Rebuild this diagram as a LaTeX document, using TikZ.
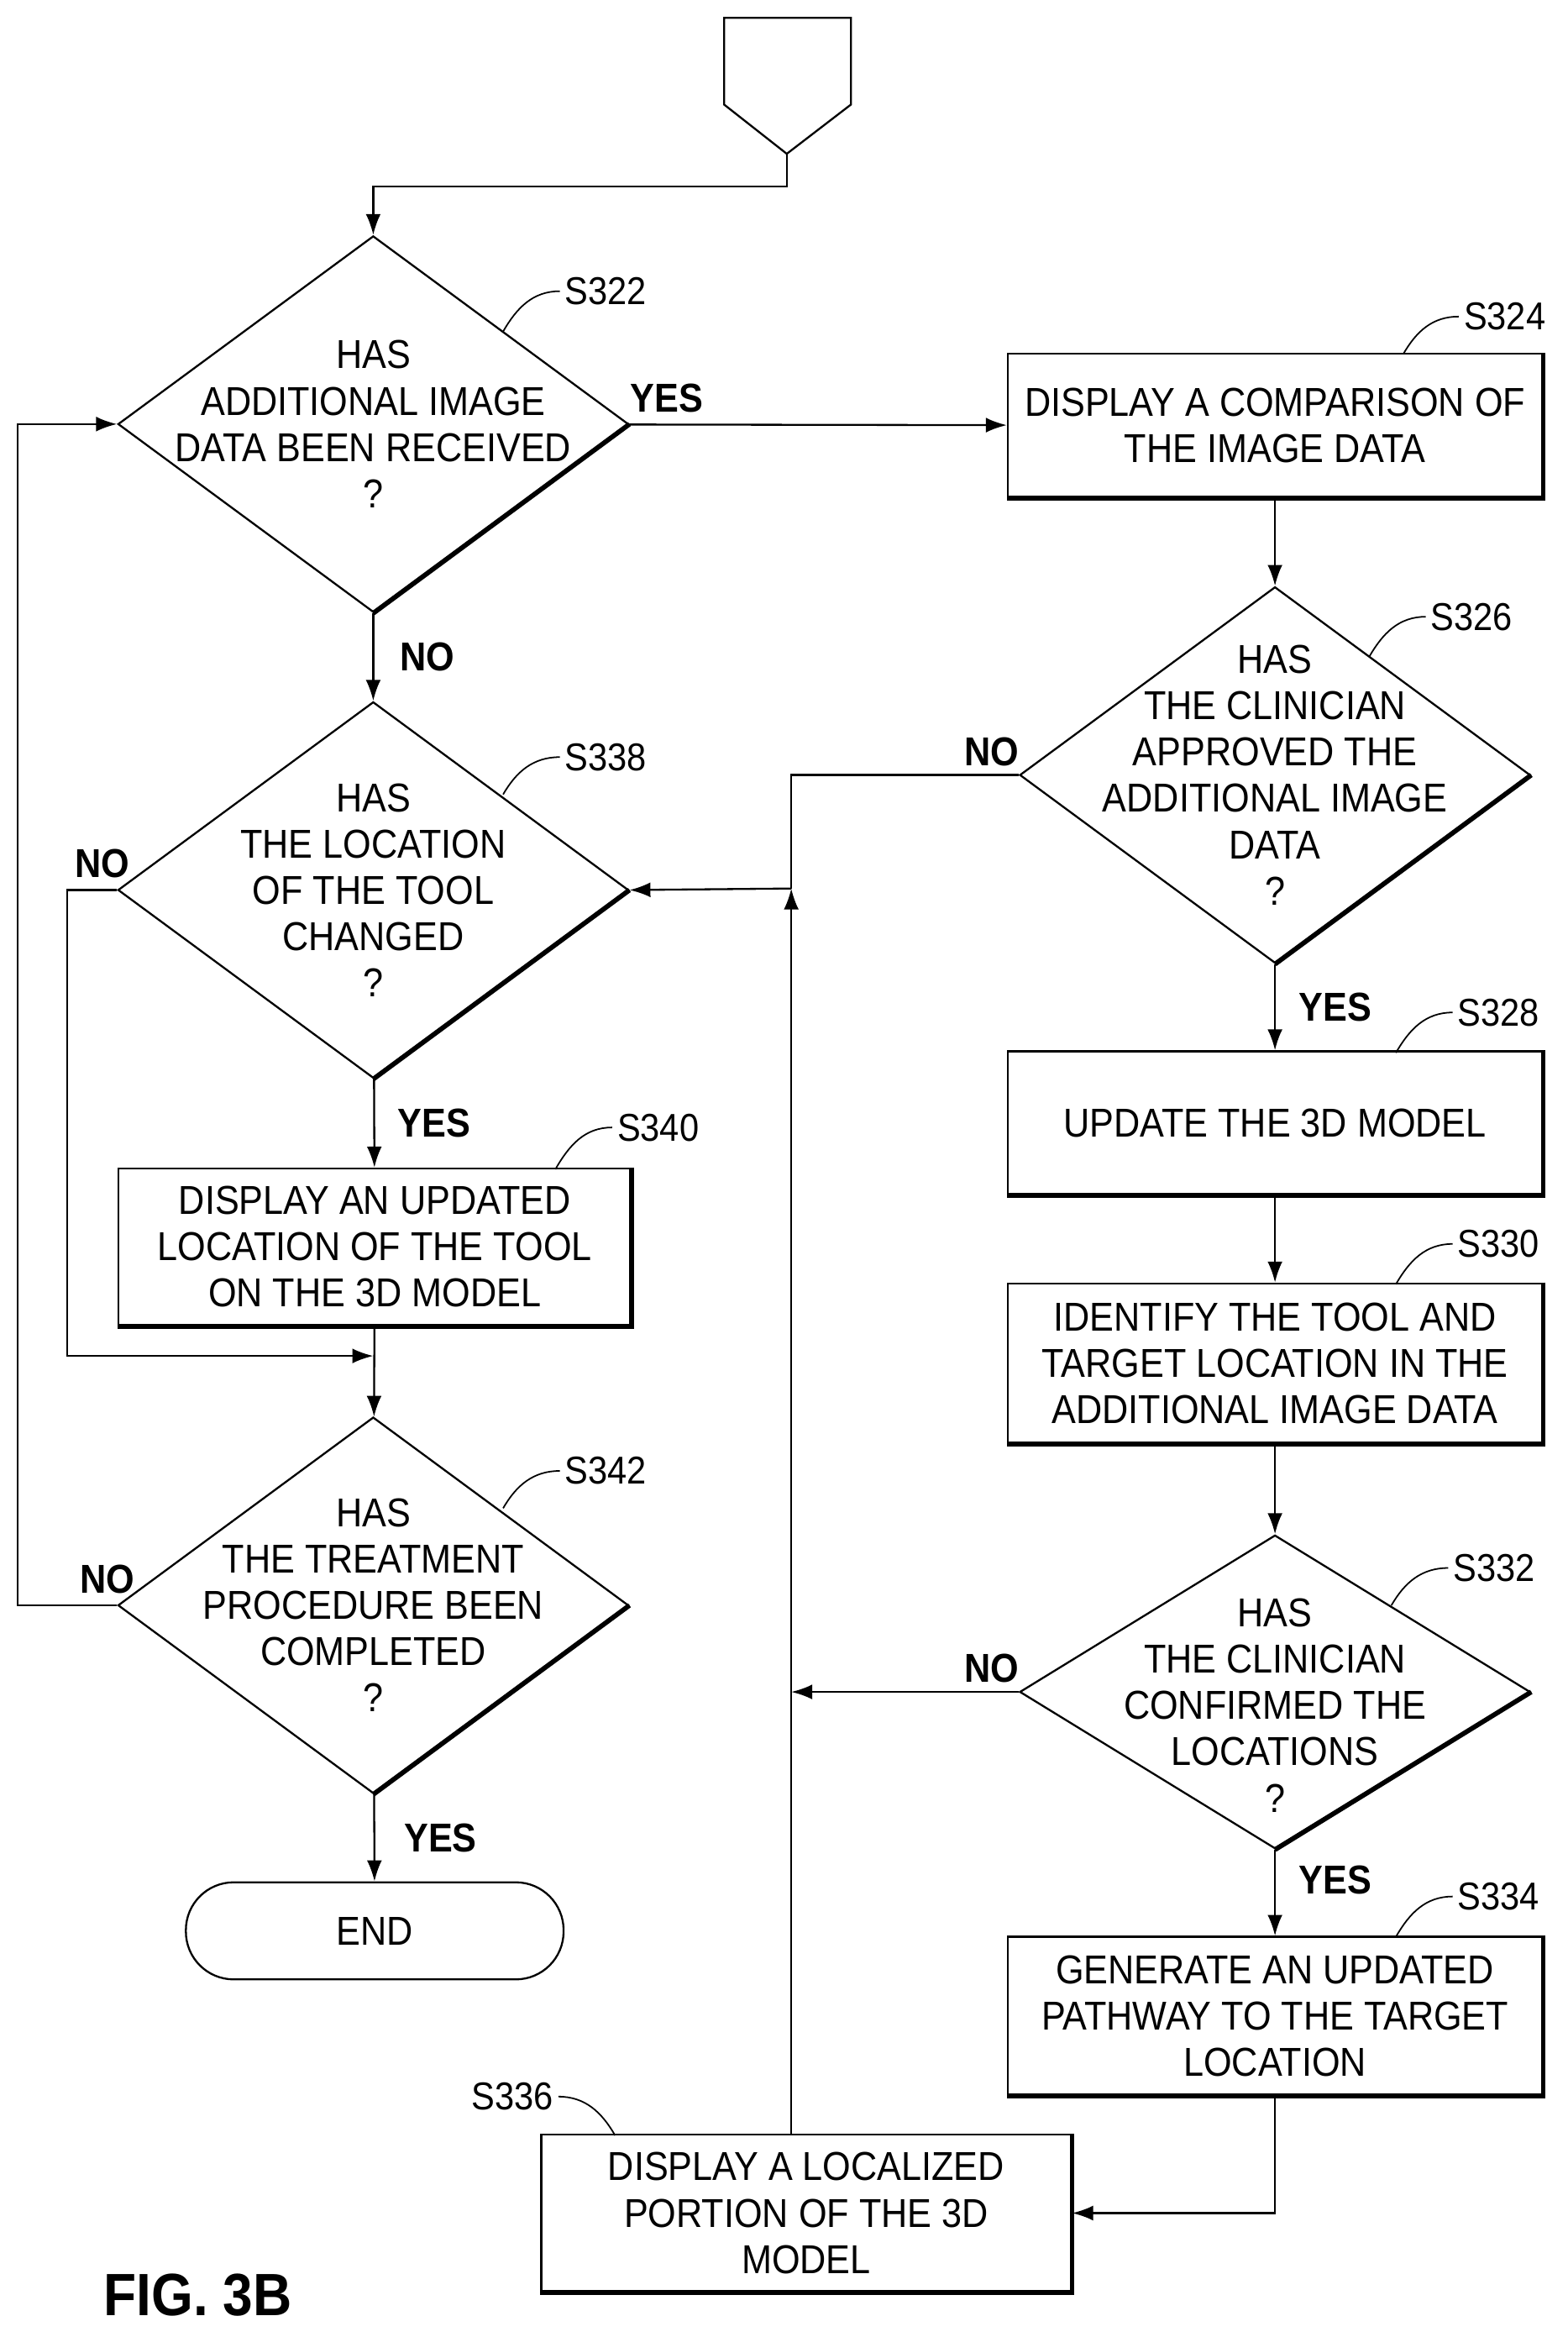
\documentclass[tikz,border=0pt]{standalone}
\usepackage{fontspec}
\setmainfont{Liberation Sans}[FakeStretch=0.9]
\usetikzlibrary{shapes.geometric,calc,arrows.meta}
\tikzset{
  base/.style = {draw, line width=1.3pt, align=center, inner sep=0pt, font=\fontsize{27}{31}\selectfont},
  shadow/.style = {append after command={\pgfextra{\draw[line width=3.2pt] (\tikzlastnode.north east) -- (\tikzlastnode.south east) -- (\tikzlastnode.south west);}}},
  process/.style = {base, shadow, rectangle, minimum width=358pt, minimum height=96pt},
  decision/.style = {base, diamond, inner xsep=-80pt, inner ysep=-50pt, minimum width=342pt, minimum height=252pt,
    append after command={\pgfextra{\draw[line width=3.2pt] (\tikzlastnode.east) -- (\tikzlastnode.south);}}},
  terminator/.style = {base, rectangle, rounded corners=32pt, minimum width=253pt, minimum height=65pt},
  connector/.style = {line width=1.3pt, -{Latex[length=14pt,width=10pt]}},
  line/.style = {line width=1.3pt},
  answer/.style = {font=\bfseries\fontsize{27}{31}\selectfont},
  steplabel/.style = {font=\fontsize{26}{30}\selectfont, anchor=west},
  leader/.style = {line width=1pt}
}
\begin{document}
\begin{tikzpicture}[x=1pt,y=-1pt]
\useasboundingbox (0,0) rectangle (1050,1565);
% off-page connector
\draw[line width=1.3pt] (485,12) -- (570,12) -- (570,70) -- (527,103) -- (485,70) -- cycle;
\coordinate (start) at (527,103);
% left column
\node (s322) [decision] at (250,284) {HAS\\ADDITIONAL IMAGE\\DATA BEEN RECEIVED\\?};
\node (s338) [decision] at (250,596) {HAS\\THE LOCATION\\OF THE TOOL\\CHANGED\\?};
\node (s340) [process, minimum width=343pt, minimum height=105pt] at (251,835) {DISPLAY AN UPDATED\\LOCATION OF THE TOOL\\ON THE 3D MODEL};
\node (s342) [decision] at (250,1075) {HAS\\THE TREATMENT\\PROCEDURE BEEN\\COMPLETED\\?};
\node (end) [terminator] at (251,1293) {END};
% right column
\node (s324) [process] at (854,285) {DISPLAY A COMPARISON OF\\THE IMAGE DATA};
\node (s326) [decision] at (854,519) {HAS\\THE CLINICIAN\\APPROVED THE\\ADDITIONAL IMAGE\\DATA\\?};
\node (s328) [process] at (854,752) {UPDATE THE 3D MODEL};
\node (s330) [process, minimum height=107pt] at (854,913) {IDENTIFY THE TOOL AND\\TARGET LOCATION IN THE\\ADDITIONAL IMAGE DATA};
\node (s332) [decision, minimum height=210pt] at (854,1133) {};
\node at (854,1142) [base, draw=none] {HAS\\THE CLINICIAN\\CONFIRMED THE\\LOCATIONS\\?};
\node (s334) [process, minimum height=106pt] at (854,1350) {GENERATE AN UPDATED\\PATHWAY TO THE TARGET\\LOCATION};
\node (s336) [process, minimum width=355pt, minimum height=105pt] at (540,1482) {DISPLAY A LOCALIZED\\PORTION OF THE 3D\\MODEL};
% junctions
\coordinate (j1) at (530,595);
\coordinate (j2) at (250,908);
% connectors
\draw [connector] (start) -- (527,125) -| (s322.north);
\draw [connector] (s322) -- node[answer, above=4pt, pos=0.1] {YES} (s324);
\draw [connector] (s322) -- node[answer, right=14pt] {NO} (s338);
\draw [connector] (s324) -- (s326);
\draw [line] (s326.west) -- node[answer, above=2pt, pos=0.12] {NO} (530,519) -- (j1);
\draw [connector] (s336.north -| j1) -- (j1);
\draw [connector] (j1) -- (s338.east);
\draw [connector] (s326) -- node[answer, right=12pt] {YES} (s328);
\draw [connector] (s328) -- (s330);
\draw [connector] (s330) -- (s332);
\draw [connector] (s332.west) -- node[answer, above=2pt, pos=0.12] {NO} (s332.west -| j1);
\draw [connector] (s332) -- node[answer, right=12pt, pos=0.35] {YES} (s334);
\draw [connector] (s334.south) |- (s336.east);
\draw [connector] (s338.west) -- node[answer, above=4pt, pos=0.3] {NO} (45,596) |- (j2);
\draw [connector] (s338) -- node[answer, right=12pt] {YES} (s340);
\draw [connector] (s340) -- (s342);
\draw [connector] (s342.west) -- node[answer, above=4pt, pos=0.1] {NO} (12,1075) |- (s322.west);
\draw [connector] (s342) -- node[answer, right=16pt] {YES} (end);
% step labels
\foreach \lab/\ax/\ay/\bx/\by in {S322/337/222/375/195, S324/940/237/977/212, S326/917/440/955/413,
  S338/337/532/375/507, S340/372/783/410/755, S328/935/705/973/678, S330/935/860/973/833,
  S342/337/1010/375/985, S332/932/1075/970/1050, S334/935/1297/973/1270}
  {\draw[leader] (\ax,\ay) to[out=60,in=180] (\bx,\by);
   \node[steplabel] at (\bx,\by) {\lab};}
\draw[leader] (412,1430) to[out=120,in=0] (374,1404);
\node[steplabel, anchor=east] at (374,1404) {S336};
\node[font=\bfseries\fontsize{40}{44}\selectfont, anchor=west] at (66,1537) {FIG. 3B};
\end{tikzpicture}
\end{document}
